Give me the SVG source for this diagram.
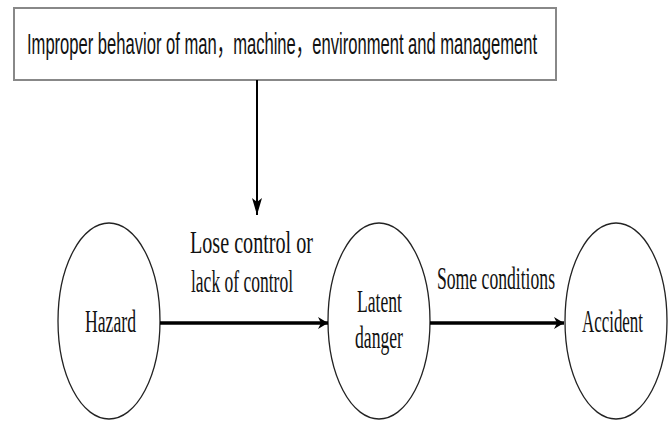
<svg xmlns="http://www.w3.org/2000/svg" width="668" height="421" viewBox="0 0 668 421">
<style>
.node ellipse{fill:#fff;stroke:#222;stroke-width:1.3}
.serif{font-family:"Liberation Serif","Times New Roman",serif;font-size:18px;fill:#111}
.sans{font-family:"Liberation Sans",Arial,"Noto Sans CJK SC",sans-serif;font-size:19px;fill:#111}
.conn{stroke:#000;fill:none}
</style>
<defs>
<marker id="ah" markerWidth="10" markerHeight="12" refX="10" refY="6" orient="auto" markerUnits="userSpaceOnUse">
<path d="M0,0 L10,6 L0,12 L3,6 Z" fill="#000"/>
</marker>
<marker id="ahv" markerWidth="17" markerHeight="10" refX="17" refY="5" orient="auto" markerUnits="userSpaceOnUse">
<path d="M0,0 L17,5 L0,10 L4,5 Z" fill="#000"/>
</marker>
</defs>
<rect width="668" height="421" fill="#fff"/>
<g id="cause">
<rect x="14" y="8" width="542" height="72" fill="#fff" stroke="#888" stroke-width="2"/>
<text class="sans" transform="translate(27,54) scale(1,1.6)" textLength="510" lengthAdjust="spacingAndGlyphs">Improper behavior of man，machine，environment and management</text>
</g>
<g id="hazard" class="node">
<ellipse cx="109" cy="321" rx="51" ry="98"/>
<text class="serif" transform="translate(85,332) scale(1,1.8)" textLength="51" lengthAdjust="spacingAndGlyphs">Hazard</text>
</g>
<g id="latent" class="node">
<ellipse cx="379" cy="321" rx="51" ry="98"/>
<text class="serif" transform="translate(357,312) scale(1,1.8)" textLength="45" lengthAdjust="spacingAndGlyphs">Latent</text>
<text class="serif" transform="translate(355,348) scale(1,1.8)" textLength="48" lengthAdjust="spacingAndGlyphs">danger</text>
</g>
<g id="accident" class="node">
<ellipse cx="616" cy="321" rx="51" ry="98"/>
<text class="serif" transform="translate(582,332) scale(1,1.8)" textLength="61" lengthAdjust="spacingAndGlyphs">Accident</text>
</g>
<g id="connectors">
<line class="conn" x1="257" y1="80" x2="257" y2="215" stroke-width="2" marker-end="url(#ahv)"/>
<line class="conn" x1="160" y1="323" x2="328" y2="323" stroke-width="3.5" marker-end="url(#ah)"/>
<line class="conn" x1="430" y1="323" x2="564" y2="323" stroke-width="3.5" marker-end="url(#ah)"/>
<text class="serif" transform="translate(190,253) scale(1,1.8)" textLength="123" lengthAdjust="spacingAndGlyphs">Lose control or</text>
<text class="serif" transform="translate(191,292) scale(1,1.8)" textLength="102" lengthAdjust="spacingAndGlyphs">lack of control</text>
<text class="serif" transform="translate(437,289) scale(1,1.8)" textLength="118" lengthAdjust="spacingAndGlyphs">Some conditions</text>
</g>
</svg>
